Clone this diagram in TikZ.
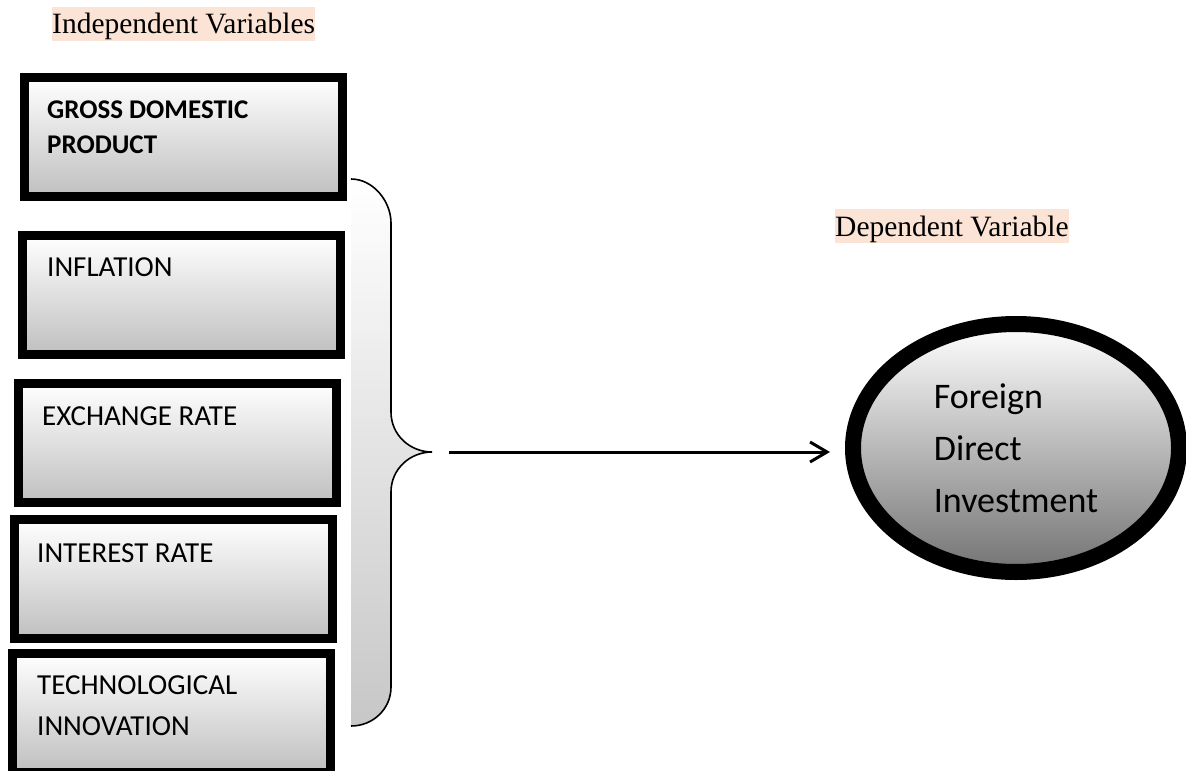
\documentclass[tikz,border=0pt]{standalone}
\usepackage{fontspec}
\setmainfont{Liberation Serif}
\newfontfamily\calibri{Carlito}
\usepackage{tikz}
\usetikzlibrary{arrows,arrows.meta,shapes.geometric,positioning}
\definecolor{peach}{HTML}{FBE4D5}
\tikzstyle{varbox}=[rectangle,draw=black,line width=9pt,top color=white,bottom color=black!25,minimum width=318pt,minimum height=119pt,anchor=north west,inner sep=0pt]
\tikzstyle{vartext}=[anchor=base west,inner sep=0pt,align=left,font=\calibri\fontsize{29}{41}\selectfont]
\tikzstyle{heading}=[anchor=base west,inner sep=0pt,fill=peach,text height=27pt,text depth=7pt,font=\fontsize{29.5}{34}\selectfont]
\tikzstyle{fdibox}=[ellipse,draw=black,line width=16pt,top color=white,bottom color=black!55,minimum width=326pt,minimum height=248pt,inner sep=0pt,align=left,font=\calibri\fontsize{36}{52}\selectfont]
\tikzstyle{post}=[-{Straight Barb[length=17pt,width=20pt]},line width=3pt]
\tikzstyle{brace}=[line width=1.6pt,draw=black]

\begin{document}
\begin{tikzpicture}[x=1pt,y=-1pt]
\useasboundingbox (0,0) rectangle (1186,771);

% headings
\node[heading] (indep) at (52,34) {Independent Variables};
\node[heading] (dep) at (835,236) {Dependent Variable};

% independent variables
\node[varbox] (gdp) at (20,73) {};
\node[varbox] (infl) at (18,231) {};
\node[varbox] (exch) at (14,379) {};
\node[varbox] (intr) at (10,515) {};
\node[varbox] (tech) at (8,649) {};

\node[vartext,font=\calibri\bfseries\fontsize{27}{35}\selectfont] (gdptext) at (47,153) {GROSS DOMESTIC\\PRODUCT};
\node[vartext] (infltext) at (47,276) {INFLATION};
\node[vartext] (exchtext) at (42,425) {EXCHANGE RATE};
\node[vartext] (intrtext) at (37,562) {INTEREST RATE};
\node[vartext] (techtext) at (37,735) {TECHNOLOGICAL\\INNOVATION};

% brace grouping the boxes
\coordinate (bracetip) at (432,452);
\fill[top color=white,bottom color=black!22] (351,179) .. controls (373,179) and (391,201) .. (391,223) -- (391,412)
  .. controls (391,435) and (410,452) .. (bracetip) .. controls (410,452) and (391,469) .. (391,492) -- (391,687)
  .. controls (391,709) and (373,726) .. (351,726) -- cycle;
\draw[brace] (351,179) .. controls (373,179) and (391,201) .. (391,223) -- (391,412)
  .. controls (391,435) and (410,452) .. (bracetip) .. controls (410,452) and (391,469) .. (391,492) -- (391,687)
  .. controls (391,709) and (373,726) .. (351,726);

% dependent variable
\node[fdibox] (fdi) at (1016,448) {Foreign\\Direct\\Investment};

\draw[post,shorten <=17pt,shorten >=15pt] (bracetip) -- (bracetip -| fdi.west);
\end{tikzpicture}
\end{document}
